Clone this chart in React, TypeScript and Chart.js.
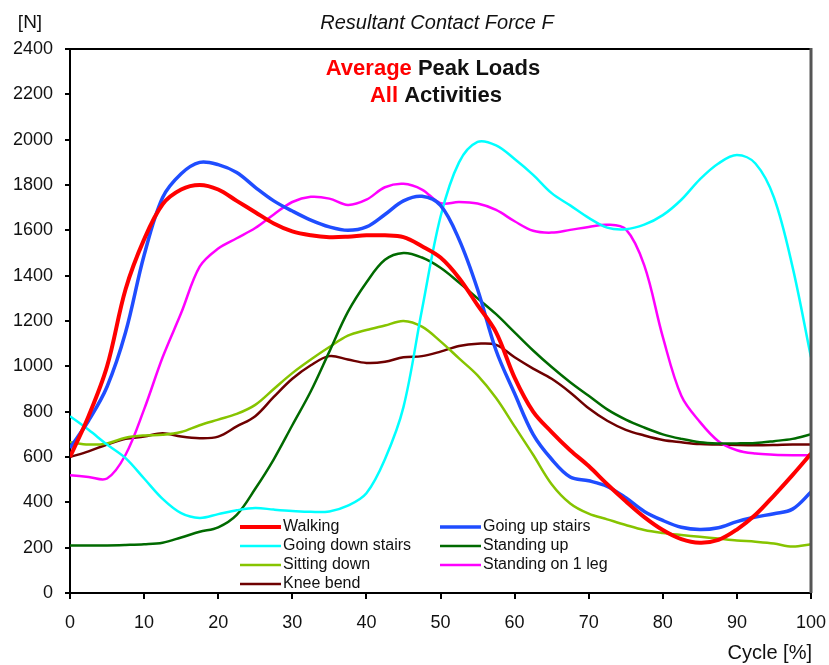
import React, { useEffect, useRef } from "react";
import { Chart, registerables } from "chart.js";

Chart.register(...registerables);

const FONT = "'Liberation Sans', Arial, Helvetica, sans-serif";

const cycle = [0, 2.5, 5, 7.5, 10, 12.5, 15, 17.5, 20, 22.5, 25, 27.5, 30, 32.5, 35, 37.5, 40, 42.5, 45, 47.5, 50, 52.5, 55, 57.5, 60, 62.5, 65, 67.5, 70, 72.5, 75, 77.5, 80, 82.5, 85, 87.5, 90, 92.5, 95, 97.5, 100];

const walking = [600, 780, 1000, 1340, 1560, 1715, 1780, 1800, 1780, 1730, 1680, 1630, 1595, 1578, 1570, 1572, 1578, 1578, 1570, 1530, 1480, 1390, 1270, 1150, 950, 800, 710, 630, 560, 480, 405, 335, 278, 238, 222, 234, 280, 345, 430, 520, 615];
const upStairs = [640, 760, 910, 1150, 1490, 1745, 1850, 1900, 1890, 1855, 1790, 1730, 1685, 1645, 1615, 1600, 1615, 1670, 1730, 1750, 1710, 1560, 1340, 1070, 880, 700, 590, 512, 495, 470, 420, 360, 320, 290, 280, 288, 315, 335, 350, 370, 445];
const downStairs = [780, 720, 655, 595, 505, 415, 352, 331, 348, 365, 375, 368, 362, 358, 360, 385, 440, 590, 820, 1250, 1660, 1900, 1990, 1975, 1915, 1845, 1764, 1710, 1655, 1612, 1605, 1625, 1667, 1735, 1825, 1895, 1932, 1895, 1745, 1440, 1040];
const standingUp = [210, 210, 210, 212, 215, 222, 245, 270, 290, 345, 460, 590, 740, 890, 1065, 1240, 1370, 1470, 1500, 1480, 1435, 1370, 1300, 1230, 1150, 1070, 997, 930, 870, 810, 765, 730, 700, 680, 665, 660, 660, 662, 670, 680, 700];
const sittingDown = [665, 655, 660, 685, 695, 698, 710, 740, 765, 790, 830, 900, 970, 1030, 1085, 1135, 1160, 1180, 1200, 1175, 1110, 1035, 960, 860, 735, 610, 480, 395, 350, 325, 300, 278, 265, 256, 248, 240, 232, 226, 218, 205, 215];
const oneLeg = [520, 512, 505, 610, 810, 1040, 1235, 1440, 1520, 1565, 1610, 1670, 1725, 1748, 1740, 1712, 1735, 1790, 1805, 1780, 1720, 1725, 1718, 1690, 1640, 1598, 1590, 1602, 1615, 1625, 1605, 1445, 1130, 870, 755, 670, 630, 615, 610, 608, 608];
const kneeBend = [600, 625, 655, 680, 690, 705, 690, 683, 690, 735, 780, 865, 945, 1005, 1045, 1030, 1015, 1020, 1040, 1045, 1065, 1090, 1100, 1095, 1040, 990, 945, 885, 815, 760, 720, 695, 675, 665, 657, 655, 653, 652, 653, 655, 655];

const seriesNames = ["Walking", "Going up stairs", "Going down stairs", "Standing up", "Sitting down", "Standing on 1 leg", "Knee bend"];
const seriesValues = [walking, upStairs, downStairs, standingUp, sittingDown, oneLeg, kneeBend];
const seriesColors = ["#ff0000", "#1f4dff", "#00ffff", "#006a00", "#86c400", "#ff00ff", "#6e0000"];
const seriesWidths = [4, 3.5, 2.5, 2.5, 2.5, 2.5, 2.5];

const xTicks = [0, 10, 20, 30, 40, 50, 60, 70, 80, 90, 100];
const yTicks = [0, 200, 400, 600, 800, 1000, 1200, 1400, 1600, 1800, 2000, 2200, 2400];

const chartTitle = "Resultant Contact Force F";
const yUnit = "[N]";
const xTitle = "Cycle [%]";

const decorPlugin = {
  id: "decor",
  afterDraw(chart: any) {
    const ctx = chart.ctx;
    const { left, right, top, bottom } = chart.chartArea;
    ctx.save();
    ctx.strokeStyle = "#000";
    ctx.lineWidth = 2;
    ctx.beginPath();
    ctx.moveTo(left, top);
    ctx.lineTo(right, top);
    ctx.stroke();
    ctx.strokeStyle = "#555";
    ctx.lineWidth = 3;
    ctx.beginPath();
    ctx.moveTo(right, top - 1);
    ctx.lineTo(right, bottom);
    ctx.stroke();

    ctx.fillStyle = "#111";
    ctx.textBaseline = "middle";
    ctx.textAlign = "center";
    ctx.font = `19px ${FONT}`;
    ctx.fillText(yUnit, 30, 23);
    ctx.font = `italic 20px ${FONT}`;
    ctx.fillText(chartTitle, 437, 23);

    const drawParts = (parts: [string, string][], cx: number, y: number) => {
      ctx.font = `bold 22px ${FONT}`;
      ctx.textAlign = "left";
      ctx.textBaseline = "alphabetic";
      const w = parts.reduce((s, p) => s + ctx.measureText(p[0]).width, 0);
      let x = cx - w / 2;
      for (const [t, c] of parts) {
        ctx.fillStyle = c;
        ctx.fillText(t, x, y);
        x += ctx.measureText(t).width;
      }
    };
    drawParts([["Average", "#ff0000"], [" Peak Loads", "#111"]], 433, 75);
    drawParts([["All", "#ff0000"], [" Activities", "#111"]], 436, 102);

    ctx.font = `16px ${FONT}`;
    ctx.textBaseline = "middle";
    ctx.textAlign = "left";
    const colX = [240, 440];
    const rowY = [527, 546, 565, 584];
    chart.data.datasets.forEach((ds: any, i: number) => {
      const col = i % 2;
      const row = Math.floor(i / 2);
      const x = colX[col];
      const y = rowY[row];
      ctx.strokeStyle = ds.borderColor;
      ctx.lineWidth = ds.borderWidth;
      ctx.beginPath();
      ctx.moveTo(x, y);
      ctx.lineTo(x + 41, y);
      ctx.stroke();
      ctx.fillStyle = "#111";
      ctx.fillText(ds.label, x + 43, y);
    });

    ctx.font = `20px ${FONT}`;
    ctx.textAlign = "right";
    ctx.fillStyle = "#111";
    ctx.fillText(xTitle, 812, 653);
    ctx.restore();
  },
};

export default function App() {
  const ref = useRef<HTMLCanvasElement | null>(null);
  useEffect(() => {
    if (!ref.current) return;
    const datasets = seriesNames.map((name, i) => ({
      label: name,
      data: cycle.map((x, j) => ({ x, y: seriesValues[i][j] })),
      borderColor: seriesColors[i],
      backgroundColor: seriesColors[i],
      borderWidth: seriesWidths[i],
      pointRadius: 0,
      tension: 0.35,
      fill: false,
    }));
    const tickFont = { size: 18, family: FONT };
    const chart = new Chart(ref.current, {
      type: "line",
      data: { datasets },
      options: {
        animation: false,
        responsive: false,
        devicePixelRatio: 1,
        layout: { padding: { top: 49, right: 18, left: 0, bottom: 0 } },
        plugins: { legend: { display: false }, title: { display: false }, tooltip: { enabled: false } },
        scales: {
          x: {
            type: "linear",
            min: 0,
            max: 100,
            afterBuildTicks: (s: any) => { s.ticks = xTicks.map((v) => ({ value: v })); },
            afterFit: (s: any) => { s.height = 72; s.paddingLeft = 0; s.paddingRight = 0; },
            ticks: { color: "#111", font: tickFont, padding: 13, maxRotation: 0, autoSkip: false, callback: (v: any) => String(v) },
            grid: { drawOnChartArea: false, drawTicks: true, tickLength: 6, color: "#000", lineWidth: 2 },
            border: { display: true, color: "#000", width: 2 },
          },
          y: {
            min: 0,
            max: 2400,
            afterBuildTicks: (s: any) => { s.ticks = yTicks.map((v) => ({ value: v })); },
            afterFit: (s: any) => { s.width = 70; s.paddingTop = 0; s.paddingBottom = 0; },
            ticks: { color: "#111", font: tickFont, padding: 12, autoSkip: false, callback: (v: any) => String(v) },
            grid: { drawOnChartArea: false, drawTicks: true, tickLength: 5, color: "#000", lineWidth: 2 },
            border: { display: true, color: "#000", width: 2 },
          },
        },
      },
      plugins: [decorPlugin],
    });
    return () => chart.destroy();
  }, []);
  return (
    <div style={{ position: "fixed", left: 0, top: 0, width: 829, height: 665, background: "#fff" }}>
      <canvas ref={ref} width={829} height={665} style={{ display: "block", width: 829, height: 665 }} />
    </div>
  );
}
